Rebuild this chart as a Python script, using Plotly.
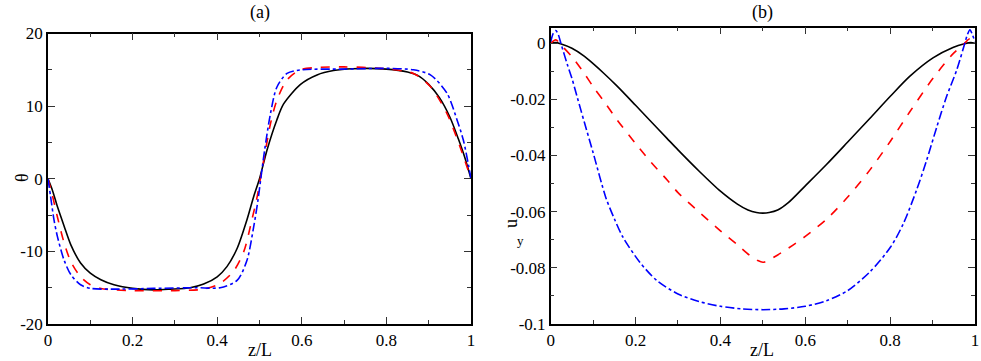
"""
Two-panel profile chart: (a) theta(z/L), (b) u_y(z/L)
"""

import plotly.graph_objects as go

# ---------------------------------------
# Panel (a) : theta
# ---------------------------------------

z_a_black = [0, 0.01, 0.022, 0.038, 0.054, 0.077, 0.1, 0.125, 0.156, 0.2, 0.25, 0.29, 0.336,
             0.368, 0.4, 0.423, 0.447, 0.47, 0.486, 0.5, 0.518, 0.541, 0.557, 0.597, 0.636,
             0.675, 0.72, 0.8, 0.85, 0.875, 0.9, 0.925, 0.95, 0.97, 0.985, 1.0]
theta_black = [0, -1.5, -3.8, -6.5, -9.1, -11.6, -13.0, -13.9, -14.6, -15.1, -15.3, -15.2, -15.0,
               -14.5, -13.5, -12.1, -9.6, -5.7, -2.5, 0, 4.0, 8.1, 10.3, 13.0, 14.3,
               14.9, 15.15, 15.1, 14.7, 14.2, 13.0, 11.2, 8.5, 5.5, 3.0, 0]

z_a_red = [0, 0.01, 0.022, 0.038, 0.054, 0.077, 0.1, 0.125, 0.156, 0.2, 0.3, 0.368, 0.407,
           0.439, 0.463, 0.483, 0.494, 0.502, 0.512, 0.526, 0.541, 0.565, 0.596, 0.63, 0.7,
           0.786, 0.864, 0.904, 0.943, 0.974, 1.0]
theta_red = [0, -2.2, -5.2, -8.8, -11.4, -13.5, -14.6, -15.1, -15.3, -15.4, -15.4, -15.2, -14.4,
             -12.7, -10.0, -5.4, -2.6, 0, 3.2, 7.6, 10.8, 13.6, 15.0, 15.3, 15.4,
             15.2, 14.5, 12.7, 9.0, 4.4, 0]

z_a_blue = [0, 0.006, 0.014, 0.022, 0.038, 0.054, 0.077, 0.101, 0.15, 0.25, 0.35, 0.407, 0.447,
            0.47, 0.486, 0.496, 0.503, 0.512, 0.526, 0.541, 0.565, 0.6, 0.7, 0.8, 0.864,
            0.904, 0.943, 0.967, 0.982, 0.994, 1.0]
theta_blue = [0, -2.4, -5.6, -7.9, -11.2, -13.2, -14.6, -15.1, -15.2, -15.1, -15.0, -15.0, -14.0,
              -11.3, -6.7, -3.1, 0, 3.9, 9.0, 12.6, 14.5, 15.0, 15.1, 15.2, 15.0,
              14.3, 11.8, 8.1, 5.3, 1.9, 0]

# ---------------------------------------
# Panel (b) : u_y
# ---------------------------------------

z_b_black = [0, 0.012, 0.023, 0.05, 0.078, 0.1, 0.125, 0.156, 0.2, 0.234, 0.273, 0.3, 0.35,
             0.4, 0.44, 0.465, 0.485, 0.5, 0.515, 0.535, 0.56, 0.6, 0.65, 0.7, 0.752, 0.801,
             0.846, 0.901, 0.948, 0.975, 0.99, 1.0]
uy_black = [0, 0.0002, -0.0002, -0.0018, -0.0045, -0.0073, -0.0107, -0.0152, -0.0221, -0.0275,
            -0.0337, -0.038, -0.0456, -0.0527, -0.0573, -0.0594, -0.0603, -0.0605, -0.0603,
            -0.0594, -0.0568, -0.0508, -0.0432, -0.0352, -0.0268, -0.0188, -0.0118, -0.0052,
            -0.0015, -0.0002, 0.0002, 0]

z_b_red = [0, 0.012, 0.024, 0.05, 0.079, 0.1, 0.126, 0.157, 0.2, 0.236, 0.275, 0.3, 0.354,
           0.4, 0.44, 0.47, 0.488, 0.5, 0.512, 0.533, 0.572, 0.6, 0.65, 0.7, 0.752, 0.801,
           0.846, 0.901, 0.948, 0.972, 0.987, 1.0]
uy_red = [0, 0.0012, -0.0006, -0.0048, -0.0107, -0.0155, -0.0208, -0.0274, -0.0357, -0.0423,
          -0.0488, -0.0532, -0.0607, -0.0668, -0.0718, -0.0757, -0.0774, -0.078, -0.0774,
          -0.0756, -0.0718, -0.0688, -0.0627, -0.0548, -0.0452, -0.0348, -0.0245, -0.0125,
          -0.0038, -0.0006, 0.0015, 0]

z_b_blue = [0, 0.006, 0.012, 0.018, 0.024, 0.039, 0.05, 0.063, 0.079, 0.1, 0.13, 0.15, 0.17,
            0.21, 0.25, 0.3, 0.35, 0.4, 0.45, 0.5, 0.55, 0.6, 0.65, 0.7, 0.752, 0.801,
            0.831, 0.862, 0.886, 0.91, 0.933, 0.957, 0.976, 0.982, 0.988, 0.994, 1.0]
uy_blue = [0.0005, 0.0035, 0.0045, 0.003, 0, -0.0075, -0.0125, -0.0195, -0.028, -0.039, -0.055,
           -0.0625, -0.069, -0.078, -0.0845, -0.0893, -0.092, -0.0937, -0.0946, -0.0949,
           -0.0946, -0.0937, -0.0917, -0.0881, -0.0815, -0.0726, -0.0643, -0.0524, -0.0417,
           -0.0298, -0.019, -0.0095, 0, 0.003, 0.0048, 0.003, 0.0005]

# ---------------------------------------
# Tick labels
# ---------------------------------------

x_ticks = [0, 0.2, 0.4, 0.6, 0.8, 1.0]
x_ticktext = ["0", "0.2", "0.4", "0.6", "0.8", "1"]
x_minor = [0.1, 0.3, 0.5, 0.7, 0.9]

theta_ticks = [-20, -10, 0, 10, 20]
theta_ticktext = ["-20", "-10", "0", "10", "20"]
theta_minor = [-15, -5, 5, 15]

uy_ticks = [-0.1, -0.08, -0.06, -0.04, -0.02, 0]
uy_ticktext = ["-0.1", "-0.08", "-0.06", "-0.04", "-0.02", "0"]
uy_minor = [-0.09, -0.07, -0.05, -0.03, -0.01]

FONT = "Liberation Serif, Times New Roman, serif"
W, H = 981, 361


def px_x(x):
    return x / W


def px_y(y):
    return 1 - y / H


fig = go.Figure()

styles = [
    ("black", "solid"),
    ("#ff0000", "dash"),
    ("#0000ff", "dashdot"),
]

panel_a = [(z_a_black, theta_black), (z_a_red, theta_red), (z_a_blue, theta_blue)]
panel_b = [(z_b_black, uy_black), (z_b_red, uy_red), (z_b_blue, uy_blue)]

for (zs, ys), (color, dash) in zip(panel_a, styles):
    fig.add_trace(go.Scatter(
        x=zs, y=ys, mode="lines", xaxis="x", yaxis="y", showlegend=False,
        line=dict(color=color, dash=dash, width=1.6, shape="spline", smoothing=0.8),
    ))

for (zs, ys), (color, dash) in zip(panel_b, styles):
    fig.add_trace(go.Scatter(
        x=zs, y=ys, mode="lines", xaxis="x2", yaxis="y2", showlegend=False,
        line=dict(color=color, dash=dash, width=1.6, shape="spline", smoothing=0.8),
    ))

axis_common = dict(
    showline=True, linecolor="black", linewidth=1.5, mirror="allticks",
    ticks="inside", ticklen=7, tickwidth=1, tickcolor="#333",
    showgrid=False, zeroline=False, automargin=False,
    tickfont=dict(family=FONT, size=17, color="black"),
)

fig.update_layout(
    width=W, height=H,
    margin=dict(l=0, r=0, t=0, b=0, autoexpand=False),
    paper_bgcolor="white", plot_bgcolor="white",
    xaxis=dict(domain=[px_x(48), px_x(471)], range=[0, 1], anchor="y",
               tickvals=x_ticks, ticktext=x_ticktext,
               minor=dict(tickvals=x_minor, ticks="inside", ticklen=4, tickcolor="#333"),
               **axis_common),
    yaxis=dict(domain=[px_y(324), px_y(33.5)], range=[-20, 20], anchor="x",
               tickvals=theta_ticks, ticktext=theta_ticktext,
               minor=dict(tickvals=theta_minor, ticks="inside", ticklen=4, tickcolor="#333"),
               **axis_common),
    xaxis2=dict(domain=[px_x(550.7), px_x(975)], range=[0, 1], anchor="y2",
                tickvals=x_ticks, ticktext=x_ticktext,
                minor=dict(tickvals=x_minor, ticks="inside", ticklen=4, tickcolor="#333"),
                **axis_common),
    yaxis2=dict(domain=[px_y(324), px_y(27.5)], range=[-0.1, 0.0056], anchor="x2",
                tickvals=uy_ticks, ticktext=uy_ticktext,
                minor=dict(tickvals=uy_minor, ticks="inside", ticklen=4, tickcolor="#333"),
                **axis_common),
)


def label(text, x, y, size=18, angle=0):
    fig.add_annotation(
        text=text, x=px_x(x), y=px_y(y), xref="paper", yref="paper",
        xanchor="center", yanchor="middle",
        showarrow=False, textangle=angle,
        font=dict(family=FONT, size=size, color="black"),
    )


label("(a)", 260, 12)
label("(b)", 762, 12)
label("z/L", 260, 350)
label("z/L", 762, 350)
label("θ", 22, 178, angle=-90)
label("u", 511, 224, angle=-90)
label("y", 520, 240, size=13)

# drop the default page margin so the figure sits at the window's corner
fig.write_html(
    "out.html",
    config={"displayModeBar": False},
    post_script="document.body.style.margin = '0';",
)
